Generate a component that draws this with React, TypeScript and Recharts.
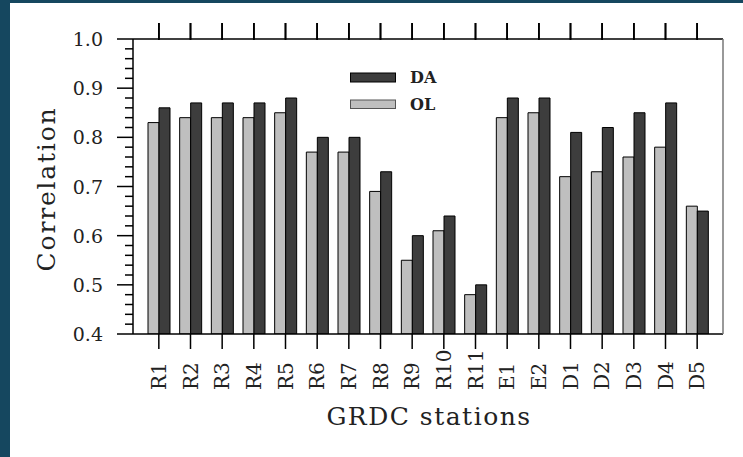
import { BarChart, Bar, XAxis, YAxis, Legend, ReferenceLine } from "recharts";

const stations = ["R1", "R2", "R3", "R4", "R5", "R6", "R7", "R8", "R9", "R10", "R11", "E1", "E2", "D1", "D2", "D3", "D4", "D5"];
const olValues = [0.83, 0.84, 0.84, 0.84, 0.85, 0.77, 0.77, 0.69, 0.55, 0.61, 0.48, 0.84, 0.85, 0.72, 0.73, 0.76, 0.78, 0.66];
const daValues = [0.86, 0.87, 0.87, 0.87, 0.88, 0.80, 0.80, 0.73, 0.60, 0.64, 0.50, 0.88, 0.88, 0.81, 0.82, 0.85, 0.87, 0.65];
const majorTicks = [0.4, 0.5, 0.6, 0.7, 0.8, 0.9, 1.0];
const yTicks = Array.from({ length: 31 }, (_, i) => +(0.4 + i * 0.02).toFixed(2));

const data = stations.map((name, i) => ({ name, OL: olValues[i], DA: daValues[i] }));

const SERIF = "'DejaVu Serif', 'Liberation Serif', serif";
const DA_FILL = "#3d3d3d";
const OL_FILL = "#bfbfbf";
const INK = "#222";
const PLOT_TOP = 39;
const TOP_TICK = 0.0325; // ~16px above the 1.0 frame, in data units

const YTick = ({ x, y, payload }: any) => {
  const v = payload.value;
  const major = majorTicks.some((m) => Math.abs(m - v) < 1e-6);
  return (
    <g>
      <path d={`M${x - (major ? 16 : 8)},${y}L${x},${y}`} stroke="#000" strokeWidth={1.5} />
      {major && (
        <text x={x - 30} y={y + 7} textAnchor="end" fontFamily={SERIF} fontSize={19} fill={INK}>
          {v.toFixed(1)}
        </text>
      )}
    </g>
  );
};

// bottom tick + rotated label; also repeats the tick on the top frame
const XTick = ({ x, y, payload }: any) => (
  <g>
    <path d={`M${x},${y}L${x},${y + 15}`} stroke="#000" strokeWidth={1.5} />
    <path d={`M${x},${PLOT_TOP + 1}L${x},${PLOT_TOP - 16}`} stroke="#000" strokeWidth={1.5} />
    <text
      x={0} y={0}
      transform={`translate(${x + 7}, 390) rotate(-90)`}
      textAnchor="start" fontFamily={SERIF} fontSize={20} fill={INK}
    >
      {payload.value}
    </text>
  </g>
);

const TopTick = ({ x, y }: any) => (
  <path d={`M${x},${y + 1}L${x},${y - 16}`} stroke="#000" strokeWidth={1.5} />
);

const LegendBox = () => (
  <svg width={130} height={50} style={{ overflow: "visible" }}>
    <rect x={0.5} y={3} width={45} height={9} fill={DA_FILL} stroke="#000" />
    <text x={60} y={13} fontFamily={SERIF} fontSize={16} fontWeight="bold" fill={INK}>DA</text>
    <rect x={0.5} y={30} width={45} height={8.5} fill={OL_FILL} stroke="#555" />
    <text x={60} y={40} fontFamily={SERIF} fontSize={16} fontWeight="bold" fill={INK}>OL</text>
  </svg>
);

export default function App() {
  return (
    <div style={{ position: "absolute", left: 0, top: 0, width: 743, height: 457, background: "#fff" }}>
      <div style={{ position: "absolute", left: 0, top: 0, width: 10, height: 457, background: "#15475f" }} />
      <div style={{ position: "absolute", left: 0, top: 0, width: 743, height: 3, background: "#15475f" }} />
      <BarChart
        width={743} height={457} data={data}
        margin={{ top: 23, right: 19, bottom: 63, left: 73 }}
        barGap={0}
      >
        <XAxis
          dataKey="name" interval={0} height={60}
          padding={{ left: 10, right: 10 }}
          tickSize={0} tickMargin={0} tick={<XTick />}
          axisLine={{ stroke: "#000", strokeWidth: 1.5 }}
          label={{
            content: () => (
              <text x={429} y={425} textAnchor="middle" fontFamily={SERIF} fontSize={25} letterSpacing={1.5} fill={INK}>
                GRDC stations
              </text>
            ),
          }}
        />
        <XAxis
          xAxisId="top" orientation="top" dataKey="name" height={16} interval={0}
          padding={{ left: 10, right: 10 }} ticks={stations}
          tickSize={0} tickMargin={0} tick={<TopTick />}
          axisLine={{ stroke: "#000", strokeWidth: 1.5 }}
        />
        <YAxis
          domain={[0.4, 1.0]} ticks={yTicks} interval={0} width={60}
          allowDataOverflow
          tickSize={0} tickMargin={0} tick={<YTick />}
          axisLine={{ stroke: "#000", strokeWidth: 1.5 }}
          label={{
            content: () => (
              <text
                x={0} y={0} transform="translate(55, 189) rotate(-90)"
                textAnchor="middle" fontFamily={SERIF} fontSize={25} letterSpacing={1.8} fill={INK}
              >
                Correlation
              </text>
            ),
          }}
        />
        <YAxis
          yAxisId="right" orientation="right" width={1} domain={[0.4, 1.0]}
          tick={false} tickLine={false}
          axisLine={{ stroke: "#777", strokeWidth: 1.5 }}
        />
        <Legend
          layout="vertical" align="center" verticalAlign="middle"
          content={() => <LegendBox />}
          wrapperStyle={{ position: "absolute", left: 350, top: 70, width: 130, height: 50 }}
        />
        <Bar dataKey="OL" fill={OL_FILL} stroke="#000" strokeWidth={1} barSize={11} isAnimationActive={false} />
        <Bar dataKey="DA" fill={DA_FILL} stroke="#000" strokeWidth={1} barSize={11} isAnimationActive={false} />
        {stations.map((s) => (
          <ReferenceLine
            key={s}
            segment={[{ x: s, y: 1.0 }, { x: s, y: 1.0 + TOP_TICK }]}
            ifOverflow="visible"
            stroke="#000" strokeWidth={1.5}
          />
        ))}
      </BarChart>
    </div>
  );
}
